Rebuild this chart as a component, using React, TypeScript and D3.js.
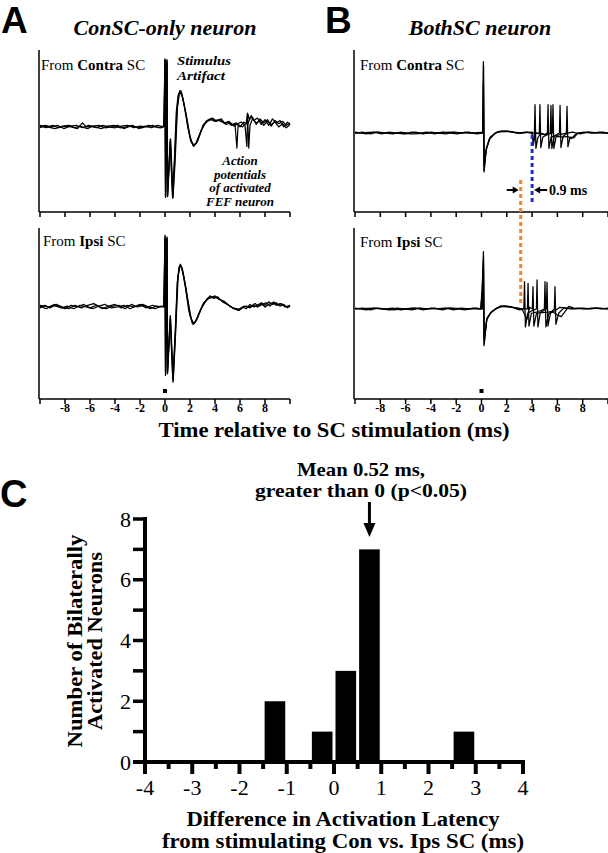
import React from 'react';
import * as d3 from 'd3';

type Pt = [number, number];

// ---- Panel A: ConSC-only neuron (time ms, normalised amplitude) ----
const conOnlyContraSweep1: Pt[] = [
  [-10, 0.01], [-9.5, -0.01], [-9, 0.02], [-8.5, -0.01], [-8, 0.01], [-7.5, 0], [-7, -0.02], [-6.6, 0.05], [-6.3, 0],
  [-6, 0.01], [-5.5, -0.01], [-5, 0.02], [-4.5, 0], [-4, -0.01], [-3.5, 0.01], [-3, 0.02], [-2.5, -0.01], [-2, 0.01],
  [-1.5, 0], [-1, 0.02], [-0.5, -0.01], [-0.1, 0.01], [0, 0.84], [0.04, -0.87], [0.16, 0.83], [0.2, -0.86], [0.42, -0.15],
  [0.62, -0.88], [0.75, -0.5], [0.95, 0.2], [1.1, 0.4], [1.2, 0.43], [1.35, 0.4], [1.6, 0.22], [1.9, -0.05], [2.1, -0.18],
  [2.3, -0.22], [2.5, -0.2], [2.8, -0.08], [3.1, 0.03], [3.4, 0.07], [3.7, 0.09], [4.0, 0.08], [4.4, 0.09], [4.7, 0.05],
  [5.0, 0.06], [5.3, 0.02], [5.6, 0.04], [5.75, -0.26], [5.85, 0.03], [6.2, 0.0], [6.5, 0.05], [6.6, 0.17], [6.7, -0.26],
  [6.8, 0.02], [7.0, 0.1], [7.3, 0.05], [7.6, 0.08], [7.9, 0.02], [8.2, 0.07], [8.5, 0.03], [8.8, 0.06], [9.1, 0.0],
  [9.4, 0.04], [9.7, -0.01], [10, 0.03],
];
const conOnlyContraSweep2: Pt[] = [
  [-10, -0.01], [-9.6, 0.02], [-9.1, 0], [-8.6, 0.02], [-8.1, -0.02], [-7.6, 0.01], [-7.1, 0.02], [-6.6, -0.01], [-6.1, 0.02],
  [-5.6, 0], [-5.1, -0.02], [-4.6, 0.01], [-4.1, 0.02], [-3.6, -0.01], [-3.1, 0], [-2.6, 0.02], [-2.1, -0.02], [-1.6, 0.01],
  [-1.1, -0.01], [-0.6, 0.02], [-0.1, 0], [0.01, 0.82], [0.05, -0.86], [0.17, 0.8], [0.21, -0.85], [0.45, -0.15],
  [0.64, -0.87], [0.8, -0.45], [1.0, 0.25], [1.15, 0.41], [1.25, 0.42], [1.4, 0.37], [1.7, 0.15], [2.0, -0.12], [2.25, -0.23],
  [2.45, -0.21], [2.75, -0.1], [3.05, 0.02], [3.35, 0.08], [3.65, 0.1], [3.95, 0.07], [4.3, 0.08], [4.6, 0.06], [4.9, 0.03],
  [5.2, 0.05], [5.5, 0.01], [5.8, 0.04], [6.1, 0.06], [6.4, 0.02], [6.55, -0.24], [6.62, 0.16], [6.75, 0.1], [7.0, 0.12],
  [7.3, 0.03], [7.6, 0.1], [7.9, 0.05], [8.2, 0.09], [8.5, 0.01], [8.8, 0.08], [9.1, 0.04], [9.4, 0.07], [9.7, 0.02],
  [10, 0.05],
];
const conOnlyContraSweep3: Pt[] = [
  [-10, 0.02], [-9.4, 0], [-8.8, -0.02], [-8.2, 0.01], [-7.7, 0.02], [-7.2, -0.01], [-6.8, 0.01], [-6.2, -0.02], [-5.8, 0.01],
  [-5.3, 0.02], [-4.8, -0.01], [-4.3, 0], [-3.8, 0.02], [-3.3, -0.02], [-2.8, 0.01], [-2.3, 0], [-1.8, -0.01], [-1.3, 0.02],
  [-0.8, 0], [-0.3, -0.01], [-0.05, 0.01], [0.0, 0.83], [0.04, -0.85], [0.15, 0.82], [0.2, -0.84], [0.42, -0.18],
  [0.6, -0.86], [0.75, -0.4], [0.9, 0.18], [1.05, 0.39], [1.2, 0.45], [1.3, 0.44], [1.5, 0.3], [1.8, 0.02], [2.05, -0.17],
  [2.3, -0.24], [2.6, -0.18], [2.9, -0.05], [3.2, 0.04], [3.5, 0.09], [3.8, 0.11], [4.1, 0.07], [4.5, 0.1], [4.8, 0.04],
  [5.1, 0.07], [5.4, 0.03], [5.7, 0.05], [6.0, 0.0], [6.3, 0.06], [6.6, 0.03], [6.9, 0.14], [7.1, 0.08], [7.4, 0.11],
  [7.7, 0.03], [8.0, 0.09], [8.3, 0.02], [8.6, 0.1], [8.9, 0.05], [9.2, 0.08], [9.5, 0.0], [9.8, 0.06], [10, 0.03],
];

const conOnlyIpsiSweep1: Pt[] = [
  [-10, 0.01], [-9.5, -0.02], [-9, 0.02], [-8.5, 0], [-8, -0.02], [-7.5, 0.02], [-7, 0], [-6.5, 0.03], [-6, -0.01],
  [-5.5, 0.02], [-5, -0.02], [-4.5, 0.01], [-4, 0.03], [-3.5, -0.01], [-3, 0.02], [-2.5, 0], [-2, 0.03], [-1.5, -0.01],
  [-1, 0.02], [-0.5, 0], [-0.1, 0.01], [0, 0.84], [0.04, -0.8], [0.16, 0.82], [0.2, -0.78], [0.42, -0.1], [0.64, -0.88],
  [0.8, -0.4], [1.0, 0.3], [1.15, 0.47], [1.25, 0.49], [1.4, 0.44], [1.7, 0.2], [2.0, -0.1], [2.25, -0.19], [2.5, -0.16],
  [2.8, -0.05], [3.1, 0.05], [3.5, 0.1], [3.8, 0.12], [4.1, 0.11], [4.5, 0.08], [4.9, 0.04], [5.3, 0.0], [5.8, -0.035],
  [6.2, 0.0], [6.5, -0.02], [6.8, 0.03], [7.1, 0.0], [7.4, 0.02], [7.7, 0.05], [8.0, 0.02], [8.3, 0.06], [8.6, 0.03],
  [8.9, 0.05], [9.2, 0.01], [9.5, 0.03], [9.8, -0.01], [10, 0.01],
];
const conOnlyIpsiSweep2: Pt[] = [
  [-10, -0.01], [-9.6, 0.02], [-9.2, -0.01], [-8.7, 0.03], [-8.2, 0], [-7.7, -0.02], [-7.2, 0.02], [-6.7, -0.01], [-6.2, 0.02],
  [-5.7, 0.04], [-5.2, 0], [-4.7, -0.02], [-4.2, 0.01], [-3.7, 0.02], [-3.2, -0.02], [-2.7, 0.03], [-2.2, 0], [-1.7, 0.02],
  [-1.2, -0.02], [-0.7, 0.01], [-0.1, 0], [0.01, 0.82], [0.05, -0.78], [0.17, 0.8], [0.21, -0.76], [0.44, -0.12],
  [0.66, -0.86], [0.85, -0.3], [1.05, 0.36], [1.2, 0.48], [1.3, 0.47], [1.5, 0.36], [1.8, 0.1], [2.1, -0.14], [2.3, -0.2],
  [2.6, -0.13], [2.9, -0.02], [3.3, 0.08], [3.6, 0.13], [3.9, 0.1], [4.2, 0.12], [4.6, 0.06], [5.0, 0.03], [5.4, -0.01],
  [5.7, -0.02], [6.0, -0.03], [6.3, 0.01], [6.6, 0.0], [6.9, 0.01], [7.2, 0.04], [7.5, 0.01], [7.8, 0.03], [8.1, 0.05],
  [8.4, 0.01], [8.7, 0.06], [9.0, 0.02], [9.3, 0.04], [9.6, 0.0], [10, 0.02],
];
const conOnlyIpsiSweep3: Pt[] = [
  [-10, 0.02], [-9.3, 0], [-8.8, 0.03], [-8.3, -0.01], [-7.8, 0.01], [-7.3, -0.02], [-6.8, 0.02], [-6.3, 0], [-5.8, -0.02],
  [-5.3, 0.01], [-4.8, 0.03], [-4.3, -0.01], [-3.8, 0], [-3.3, 0.02], [-2.8, -0.02], [-2.3, 0.01], [-1.8, 0.03], [-1.3, 0],
  [-0.8, -0.02], [-0.3, 0.01], [-0.05, 0], [0.0, 0.8], [0.04, -0.76], [0.15, 0.8], [0.19, -0.75], [0.42, -0.14],
  [0.62, -0.84], [0.8, -0.35], [0.98, 0.28], [1.12, 0.46], [1.22, 0.5], [1.35, 0.46], [1.6, 0.26], [1.9, -0.04], [2.2, -0.2],
  [2.4, -0.18], [2.7, -0.08], [3.0, 0.02], [3.4, 0.1], [3.7, 0.11], [4.0, 0.13], [4.3, 0.09], [4.7, 0.07], [5.1, 0.02],
  [5.5, -0.02], [5.9, -0.04], [6.2, -0.01], [6.5, 0.01], [6.8, -0.01], [7.1, 0.02], [7.4, 0.0], [7.7, 0.04], [8.0, 0.0],
  [8.3, 0.03], [8.6, 0.05], [8.9, 0.02], [9.2, 0.04], [9.5, 0.02], [9.8, 0.0], [10, 0.02],
];

// ---- Panel B: BothSC neuron ----
const bothContraSweep1: Pt[] = [
  [-10, 0], [-9.4, 0.01], [-8.8, -0.01], [-8.2, 0.01], [-7.6, 0], [-7, -0.01], [-6.4, 0.01], [-5.8, 0], [-5.2, 0.01],
  [-4.6, -0.01], [-4, 0.01], [-3.4, 0], [-2.8, -0.01], [-2.2, 0.01], [-1.6, 0], [-1, 0.01], [-0.4, -0.01], [0.1, 0],
  [0.15, 0.88], [0.2, -0.48], [0.35, -0.22], [0.6, -0.08], [1.0, -0.01], [1.4, 0.02], [2.0, 0.025], [2.6, 0.01], [3.2, 0],
  [3.6, 0.01], [4.0, 0.0], [4.18, 0.0], [4.23, 0.35], [4.3, -0.19], [4.45, -0.06], [4.7, 0.0], [5.0, -0.02], [5.21, 0.0],
  [5.26, 0.35], [5.33, -0.19], [5.5, -0.05], [5.8, -0.03], [6.16, 0.0], [6.21, 0.34], [6.28, -0.18], [6.45, -0.04],
  [6.8, 0.0], [7.2, 0.01], [7.8, -0.01], [8.4, 0.01], [9.0, 0], [9.6, 0.01], [10, 0],
];
const bothContraSweep2: Pt[] = [
  [-10, 0.01], [-9.1, -0.01], [-8.5, 0.01], [-7.9, -0.01], [-7.3, 0.01], [-6.7, 0], [-6.1, -0.01], [-5.5, 0.01], [-4.9, 0],
  [-4.3, 0.01], [-3.7, -0.01], [-3.1, 0.01], [-2.5, 0], [-1.9, -0.01], [-1.3, 0.01], [-0.7, 0], [0.1, 0.01], [0.16, 0.84],
  [0.21, -0.46], [0.38, -0.2], [0.65, -0.07], [1.1, 0.0], [1.6, 0.025], [2.2, 0.02], [2.8, 0.0], [3.5, 0.01], [4.0, 0],
  [4.1, -0.1], [4.2, 0.0], [4.57, 0.0], [4.62, 0.35], [4.69, -0.18], [4.85, -0.05], [5.2, -0.02], [5.44, 0.0], [5.49, 0.34],
  [5.56, -0.19], [5.75, -0.04], [6.2, -0.02], [6.71, 0.0], [6.76, 0.33], [6.83, -0.17], [7.0, -0.05], [7.3, -0.06],
  [7.6, 0.0], [8.1, 0.01], [8.7, 0], [9.3, 0.01], [10, 0],
];
const bothContraSweep3: Pt[] = [
  [-10, 0], [-8.5, 0.01], [-7, 0], [-5.5, -0.01], [-4, 0], [-2.5, 0.01], [-1, 0], [0.1, 0], [0.15, 0.6], [0.2, -0.4],
  [0.4, -0.18], [0.7, -0.05], [1.2, 0.01], [2.0, 0.02], [3.0, 0.0], [4.0, 0.01], [4.1, -0.15], [4.25, 0.0], [5.0, -0.02],
  [5.6, 0.0], [5.65, 0.35], [5.72, -0.19], [5.9, -0.04], [6.4, -0.05], [6.8, -0.04], [7.1, -0.07], [7.4, -0.02], [7.7, 0.0],
  [8.5, 0.01], [9.5, 0], [10, 0],
];

const bothIpsiSweep1: Pt[] = [
  [-10, 0], [-9.4, 0.01], [-8.8, -0.01], [-8.2, 0.01], [-7.6, 0], [-7, 0.01], [-6.4, -0.01], [-5.8, 0], [-5.2, 0.01],
  [-4.6, -0.01], [-4, 0.01], [-3.4, 0], [-2.8, 0.01], [-2.2, -0.01], [-1.6, 0.01], [-1, 0], [-0.4, 0.01], [-0.05, 0],
  [0.0, 0.1], [0.05, 0], [0.15, 0.67], [0.2, -0.43], [0.4, -0.13], [0.7, -0.05], [1.1, 0.0], [1.5, 0.035], [2.2, 0.03],
  [2.6, 0.01], [3.0, -0.01], [3.35, 0.0], [3.4, 0.32], [3.47, -0.21], [3.65, -0.05], [4.0, -0.02], [4.34, 0.0], [4.39, 0.34],
  [4.46, -0.21], [4.65, -0.04], [5.13, 0.0], [5.18, 0.31], [5.25, -0.2], [5.45, -0.05], [5.8, -0.02], [6.2, 0.02],
  [6.8, 0.01], [7.4, 0], [8.0, 0.01], [8.6, 0], [9.2, 0.01], [10, 0],
];
const bothIpsiSweep2: Pt[] = [
  [-10, 0.01], [-9.1, -0.01], [-8.5, 0.01], [-7.9, 0], [-7.3, -0.01], [-6.7, 0.01], [-6.1, 0], [-5.5, -0.01], [-4.9, 0.01],
  [-4.3, 0], [-3.7, 0.01], [-3.1, -0.01], [-2.5, 0.01], [-1.9, 0], [-1.3, -0.01], [-0.7, 0.01], [-0.05, 0], [0.0, 0.08],
  [0.06, 0], [0.16, 0.62], [0.21, -0.4], [0.42, -0.12], [0.75, -0.04], [1.2, 0.01], [1.8, 0.035], [2.5, 0.02], [3.1, 0.0],
  [3.63, 0.0], [3.68, 0.3], [3.75, -0.2], [3.95, -0.05], [4.5, -0.03], [4.97, 0.0], [5.02, 0.32], [5.09, -0.21],
  [5.3, -0.06], [5.76, 0.0], [5.81, 0.26], [5.88, -0.18], [6.1, -0.05], [6.5, 0.01], [7.1, 0], [7.7, 0.01], [8.3, 0],
  [8.9, 0.01], [9.5, 0], [10, 0.01],
];
const bothIpsiSweep3: Pt[] = [
  [-10, 0], [-8.5, 0.01], [-7, -0.01], [-5.5, 0.01], [-4, 0], [-2.5, 0.01], [-1, 0], [-0.05, 0], [0.15, 0.55],
  [0.21, -0.35], [0.45, -0.1], [0.8, -0.03], [1.5, 0.03], [2.5, 0.02], [3.2, 0.0], [3.6, -0.12], [3.8, 0.02], [4.02, 0.0],
  [4.07, 0.26], [4.14, -0.2], [4.35, -0.05], [5.0, -0.04], [5.6, -0.03], [6.0, -0.07], [6.3, -0.09], [6.6, -0.03],
  [6.9, 0.03], [7.3, 0.01], [8.0, 0], [9.0, 0.01], [10, 0],
];

// latency markers (ms) and stimulation time
const contraLatency = 4.0;
const ipsiLatency = 3.1;
const stimTime = 0;
const timeTicks = [-10, -8, -6, -4, -2, 0, 2, 4, 6, 8, 10];
const timeTickLabels = [-8, -6, -4, -2, 0, 2, 4, 6, 8];

// ---- Panel C: histogram of latency differences ----
const binStarts = [-1.5, -0.5, 0, 0.5, 2.5];
const binCounts = [2, 1, 3, 7, 1];
const binWidth = 0.5;
const meanArrowAt = 0.75;
const countTicks = [0, 2, 4, 6, 8];
const countMinorTicks = [1, 3, 5, 7];
const diffTicks = [-4, -3, -2, -1, 0, 1, 2, 3, 4];
const diffHalfTicks = [-3.5, -2.5, -1.5, -0.5, 0.5, 1.5, 2.5, 3.5];

const serif = '"Liberation Serif", "Times New Roman", serif';
const sans = '"Liberation Sans", Arial, sans-serif';

function TracePanel({ x0, x1, yTop, yBot, domain, sweeps, showLabels }: any) {
  const x = d3.scaleLinear().domain([-10, 10]).range([x0, x1]);
  const y = d3.scaleLinear().domain(domain).range([yBot, yTop]);
  const line = d3.line<Pt>().x(d => x(d[0])).y(d => y(d[1]));
  return (
    <g>
      {sweeps.map((s: Pt[], i: number) => (
        <path key={i} d={line(s) || ''} fill="none" stroke="#000" strokeWidth={1.25} strokeLinejoin="round" />
      ))}
      <line x1={x0 - 1} x2={x0 - 1} y1={yTop} y2={yBot} stroke="#000" strokeWidth={1.5} />
      <line x1={x0 - 1} x2={x1} y1={yBot} y2={yBot} stroke="#000" strokeWidth={1.5} />
      {timeTicks.map(t => (
        <line key={t} x1={x(t)} x2={x(t)} y1={yBot} y2={yBot + 5} stroke="#000" strokeWidth={1.5} />
      ))}
      {showLabels && timeTickLabels.map(t => (
        <text key={t} x={x(t)} y={yBot + 13} textAnchor="middle" fontFamily={serif} fontWeight="bold" fontSize={12}>{t}</text>
      ))}
      {showLabels && (
        <rect x={x(stimTime) - 2} y={yBot - 10} width={4} height={4} fill="#000" />
      )}
    </g>
  );
}

export default function App() {
  // panel geometry
  const ax = [40, 290];
  const bx = [355, 608];
  const topY = [50, 212];
  const botY = [228, 399];
  const topADomain = [-1.05, 0.95];
  const topBDomain = [-0.975, 1.025];
  const botADomain = [-1.076, 0.924];
  const botBDomain = [-1.053, 0.947];

  const xB = d3.scaleLinear().domain([-10, 10]).range(bx);
  const yBTop = d3.scaleLinear().domain(topBDomain).range([topY[1], topY[0]]);
  const yBBot = d3.scaleLinear().domain(botBDomain).range([botY[1], botY[0]]);

  // histogram scales
  const hx = d3.scaleLinear().domain([-4, 4]).range([145, 523]);
  const hy = d3.scaleLinear().domain([0, 8]).range([762, 519]);

  const arrowY = 190;
  const xo = xB(ipsiLatency);
  const xb = xB(contraLatency);
  const ma = hx(meanArrowAt);

  return (
    <>
      <style>{`body{margin:0}`}</style>
      <svg width={608} height={853} style={{ display: 'block', background: '#fff' }}>
        {/* Panel headings */}
        <text x={1} y={33} fontFamily={sans} fontWeight="bold" fontSize={37}>A</text>
        <text x={165} y={35} textAnchor="middle" fontFamily={serif} fontWeight="bold" fontStyle="italic" fontSize={22}>ConSC-only neuron</text>
        <text x={325} y={33} fontFamily={sans} fontWeight="bold" fontSize={37}>B</text>
        <text x={480} y={35} textAnchor="middle" fontFamily={serif} fontWeight="bold" fontStyle="italic" fontSize={22}>BothSC neuron</text>

        <TracePanel x0={ax[0]} x1={ax[1]} yTop={topY[0]} yBot={topY[1]} domain={topADomain}
          sweeps={[conOnlyContraSweep1, conOnlyContraSweep2, conOnlyContraSweep3]} showLabels={false} />
        <TracePanel x0={ax[0]} x1={ax[1]} yTop={botY[0]} yBot={botY[1]} domain={botADomain}
          sweeps={[conOnlyIpsiSweep1, conOnlyIpsiSweep2, conOnlyIpsiSweep3]} showLabels={true} />
        <TracePanel x0={bx[0]} x1={bx[1]} yTop={topY[0]} yBot={topY[1]} domain={topBDomain}
          sweeps={[bothContraSweep1, bothContraSweep2, bothContraSweep3]} showLabels={false} />
        <TracePanel x0={bx[0]} x1={bx[1]} yTop={botY[0]} yBot={botY[1]} domain={botBDomain}
          sweeps={[bothIpsiSweep1, bothIpsiSweep2, bothIpsiSweep3]} showLabels={true} />

        {/* panel labels */}
        <text x={41} y={70} fontFamily={serif} fontSize={15}>From <tspan fontWeight="bold">Contra</tspan> SC</text>
        <text x={43} y={246} fontFamily={serif} fontSize={15}>From <tspan fontWeight="bold">Ipsi</tspan> SC</text>
        <text x={360} y={70} fontFamily={serif} fontSize={15}>From <tspan fontWeight="bold">Contra</tspan> SC</text>
        <text x={360} y={247} fontFamily={serif} fontSize={15}>From <tspan fontWeight="bold">Ipsi</tspan> SC</text>

        {/* annotations A */}
        <g fontFamily={serif} fontWeight="bold" fontStyle="italic" fontSize={13}>
          <text x={177} y={65} textLength={54} lengthAdjust="spacingAndGlyphs">Stimulus</text>
          <text x={177} y={80} textLength={48} lengthAdjust="spacingAndGlyphs">Artifact</text>
          <g textAnchor="middle">
            <text x={240} y={165}>Action</text>
            <text x={240} y={178.5}>potentials</text>
            <text x={240} y={192}>of activated</text>
            <text x={240} y={205.5}>FEF neuron</text>
          </g>
        </g>

        {/* latency markers B */}
        <line x1={xb} x2={xb} y1={yBTop(-0.025)} y2={yBTop(-0.85)} stroke="#1f2fd0" strokeWidth={3} strokeDasharray="4,3" />
        <line x1={xo} x2={xo} y1={yBTop(-0.58)} y2={yBBot(0.047)} stroke="#f0852a" strokeWidth={3} strokeDasharray="4,3" />
        <line x1={xo - 14} x2={xo - 6} y1={arrowY} y2={arrowY} stroke="#000" strokeWidth={2} />
        <path d={`M${xo - 2},${arrowY} L${xo - 8},${arrowY - 3.5} L${xo - 8},${arrowY + 3.5} Z`} fill="#000" />
        <line x1={xb + 7} x2={xb + 15} y1={arrowY} y2={arrowY} stroke="#000" strokeWidth={2} />
        <path d={`M${xb + 2},${arrowY} L${xb + 8},${arrowY - 3.5} L${xb + 8},${arrowY + 3.5} Z`} fill="#000" />
        <text x={xb + 17} y={arrowY + 5} fontFamily={serif} fontWeight="bold" fontSize={14}>0.9 ms</text>

        <text x={334} y={437} textAnchor="middle" fontFamily={serif} fontWeight="bold" fontSize={22} textLength={351} lengthAdjust="spacingAndGlyphs">Time relative to SC stimulation (ms)</text>

        {/* Panel C */}
        <text x={0} y={507} fontFamily={sans} fontWeight="bold" fontSize={38}>C</text>
        <g fontFamily={serif} fontWeight="bold" fontSize={19.5} textAnchor="middle">
          <text x={361} y={476} textLength={128} lengthAdjust="spacingAndGlyphs">Mean 0.52 ms,</text>
          <text x={361} y={497} textLength={212} lengthAdjust="spacingAndGlyphs">greater than 0 (p&lt;0.05)</text>
        </g>
        <line x1={ma} x2={ma} y1={502} y2={526} stroke="#000" strokeWidth={3} />
        <path d={`M${ma},537 L${ma - 6},523 L${ma + 6},523 Z`} fill="#000" />

        {binStarts.map((b, i) => (
          <rect key={b} x={hx(b) + 1.5} y={hy(binCounts[i])} width={hx(b + binWidth) - hx(b) - 3}
            height={hy(0) - hy(binCounts[i])} fill="#000" />
        ))}

        {/* y axis */}
        <line x1={145} x2={145} y1={hy(8) - 2} y2={hy(0)} stroke="#000" strokeWidth={4} />
        {[...countTicks, ...countMinorTicks].map(t => (
          <line key={t} x1={133} x2={145} y1={hy(t)} y2={hy(t)} stroke="#000" strokeWidth={3.5} />
        ))}
        {countTicks.map(t => (
          <text key={t} x={131} y={hy(t) + 7.5} textAnchor="end" fontFamily={serif} fontSize={22}>{t}</text>
        ))}
        {/* x axis */}
        <line x1={133} x2={hx(4) + 2} y1={hy(0)} y2={hy(0)} stroke="#000" strokeWidth={4} />
        {diffTicks.map(t => (
          <line key={t} x1={hx(t)} x2={hx(t)} y1={hy(0)} y2={hy(0) + 12} stroke="#000" strokeWidth={4} />
        ))}
        {diffHalfTicks.map(t => (
          <line key={t} x1={hx(t)} x2={hx(t)} y1={hy(0)} y2={hy(0) + 7} stroke="#000" strokeWidth={4} />
        ))}
        {diffTicks.map(t => (
          <text key={t} x={hx(t)} y={795} textAnchor="middle" fontFamily={serif} fontSize={22}>{t}</text>
        ))}

        <g fontFamily={serif} fontWeight="bold" fontSize={21} textAnchor="middle">
          <text transform="translate(82,641) rotate(-90)" textLength={213} lengthAdjust="spacingAndGlyphs">Number of Bilaterally</text>
          <text transform="translate(102,641) rotate(-90)" textLength={178} lengthAdjust="spacingAndGlyphs">Activated Neurons</text>
        </g>
        <g fontFamily={serif} fontWeight="bold" fontSize={20} textAnchor="middle">
          <text x={343} y={826} textLength={313} lengthAdjust="spacingAndGlyphs">Difference in Activation Latency</text>
          <text x={343} y={848} textLength={362} lengthAdjust="spacingAndGlyphs">from stimulating Con vs. Ips SC (ms)</text>
        </g>
      </svg>
    </>
  );
}
